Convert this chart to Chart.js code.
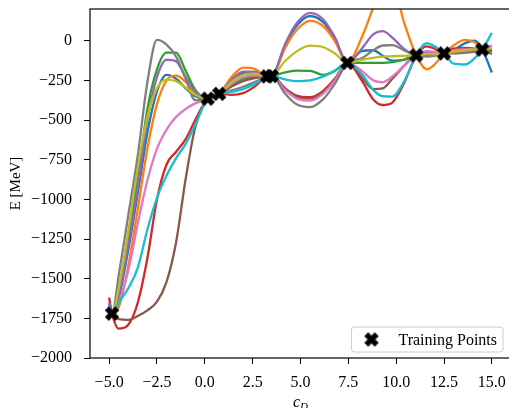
<!DOCTYPE html>
<html>
<head>
<meta charset="utf-8">
<script src="https://cdn.jsdelivr.net/npm/chart.js@4.4.0/dist/chart.umd.min.js"></script>
<style>
html, body { margin: 0; padding: 0; background: #fff; overflow: hidden; }
#wrap { width: 520px; height: 408px; }
</style>
</head>
<body>
<div id="wrap"><canvas id="chart" width="520" height="408"></canvas></div>
<script>
// c_D grid shared by every sampled curve
const cD = [-5, -4.85, -4.5, -4, -3.5, -3, -2.5, -2, -1.5, -1, -0.5, 0.15, 0.75, 1.4, 2, 2.6, 3.25, 3.5,
            4.2, 4.8, 5.5, 6.2, 6.8, 7.45, 8.2, 8.8, 9.3, 9.8, 10.4, 11.05, 11.6, 12, 12.5, 13, 13.6, 14.1, 14.5, 15];

// energy of each sampled curve on the grid above
const eBlue   = [-1660, -1720, -1620, -1320, -960, -580, -320, -215, -240, -300, -350, -365, -335, -253, -205, -201, -225, -222,
                 -29, 94, 156, 116, 12, -140, -65, -60, -95, -125, -120, -92, -95, -92, -80, -60, -15, 0, -56, -200];
const eOrange = [-1700, -1720, -1680, -1420, -1060, -680, -400, -250, -220, -260, -330, -365, -335, -229, -170, -177, -225, -222,
                 -45, 67, 125, 90, -4, -140, 20, 210, 380, 370, 120, -92, -180, -150, -80, -30, 5, -10, -56, -75];
const eGreen  = [-1690, -1720, -1580, -1230, -860, -430, -180, -75, -75, -190, -310, -365, -335, -278, -240, -226, -225, -222,
                 -200, -188, -190, -215, -190, -140, -140, -140, -140, -135, -120, -92, -90, -86, -80, -72, -65, -60, -56, -85];
const eRed    = [-1619, -1720, -1815, -1790, -1650, -1370, -1000, -780, -700, -620, -500, -365, -335, -341, -330, -289, -225, -222,
                 -300, -346, -356, -314, -239, -140, -250, -370, -405, -390, -270, -92, -35, -50, -80, -50, -45, -50, -56, -65];
const ePurple = [-1650, -1720, -1600, -1290, -920, -500, -230, -120, -130, -230, -320, -365, -335, -247, -195, -195, -225, -222,
                 -19, 110, 175, 132, 21, -140, -50, 40, 60, 20, -50, -92, -70, -72, -80, -70, -62, -58, -56, -50];
const eBrown  = [-1700, -1720, -1755, -1760, -1735, -1700, -1645, -1520, -1270, -870, -545, -365, -335, -288, -255, -236, -225, -222,
                 -305, -354, -365, -321, -244, -140, -230, -305, -300, -240, -160, -92, -95, -92, -80, -80, -75, -68, -56, -75];
const ePink   = [-1680, -1720, -1650, -1450, -1150, -880, -680, -560, -480, -430, -395, -365, -335, -271, -230, -219, -225, -222,
                 -312, -365, -378, -332, -250, -140, -190, -250, -262, -225, -160, -92, -65, -70, -80, -60, -55, -55, -56, -28];
const eGray   = [-1690, -1720, -1480, -1100, -720, -260, 5, -25, -100, -240, -375, -365, -335, -313, -290, -261, -225, -222,
                 -334, -401, -419, -367, -270, -140, -110, -60, -30, -28, -60, -92, -100, -95, -80, -75, -70, -65, -56, -80];
const eOlive  = [-1690, -1720, -1560, -1200, -800, -480, -300, -245, -255, -295, -340, -365, -335, -260, -215, -208, -225, -222,
                 -128, -67, -31, -41, -80, -140, -120, -108, -100, -98, -95, -92, -85, -84, -80, -70, -60, -55, -56, -45];
const eCyan   = [-1690, -1720, -1650, -1560, -1430, -1190, -990, -850, -740, -650, -530, -365, -335, -323, -305, -272, -225, -222,
                 -244, -255, -250, -225, -187, -140, -210, -310, -350, -352, -260, -92, -15, -35, -80, -145, -150, -110, -56, 50];

// training points
const trainX = [-4.85, 0.15, 0.75, 3.25, 3.5, 7.45, 11.05, 12.5, 14.5];
const trainE = [-1720, -365, -335, -225, -222, -140, -92, -80, -56];

// tick positions
const xTicks = [-5, -2.5, 0, 2.5, 5, 7.5, 10, 12.5, 15];
const yTicks = [-2000, -1750, -1500, -1250, -1000, -750, -500, -250, 0];

const serif = '"Liberation Serif", "DejaVu Serif", serif';

Ready();

function Ready()
{
    Chart.defaults.font.family = serif;
    Chart.defaults.color = '#000';

    let marker = MakeCrossMarker(16);

    let curves = [
        { values: eBlue,   color: '#1f77b4' },
        { values: eOrange, color: '#ff7f0e' },
        { values: eGreen,  color: '#2ca02c' },
        { values: eRed,    color: '#d62728' },
        { values: ePurple, color: '#9467bd' },
        { values: eBrown,  color: '#8c564b' },
        { values: ePink,   color: '#e377c2' },
        { values: eGray,   color: '#7f7f7f' },
        { values: eOlive,  color: '#bcbd22' },
        { values: eCyan,   color: '#17becf' }
    ];

    let datasets = [{
        label: 'Training Points',
        data: trainX.map((x, i) => ({ x: x, y: trainE[i] })),
        showLine: false,
        pointStyle: marker,
        pointRadius: 8,
        order: 0
    }];

    // later curves sit on top, as in the order they were plotted
    curves.forEach((c, i) => {
        datasets.push({
            label: 'sample ' + i,
            data: cD.map((x, k) => ({ x: x, y: c.values[k] })),
            borderColor: c.color,
            borderWidth: 2.3,
            pointRadius: 0,
            cubicInterpolationMode: 'monotone',
            fill: false,
            order: curves.length - i
        });
    });

    let fmt = (v, digits) => (v < 0 ? '\u2212' : '') + Math.abs(v).toFixed(digits);

    new Chart(document.getElementById('chart'), {
        type: 'line',
        data: { datasets: datasets },
        options: {
            responsive: false,
            animation: false,
            layout: { padding: { top: 6, right: 1, left: 0, bottom: 0 } },
            plugins: {
                legend: { display: false },
                tooltip: { enabled: false }
            },
            scales: {
                x: {
                    type: 'linear',
                    min: -6,
                    max: 16,
                    afterFit: s => { s.height = 50; s.paddingLeft = 0; s.paddingRight = 0; },
                    afterBuildTicks: s => { s.ticks = xTicks.map(v => ({ value: v })); },
                    border: { display: false },
                    grid: { drawOnChartArea: false, drawTicks: true, tickLength: 6, tickColor: '#000', tickWidth: 1 },
                    ticks: { font: { size: 16 }, padding: 9, maxRotation: 0, callback: v => fmt(v, 1) }
                },
                y: {
                    min: -2000,
                    max: 200,
                    afterFit: s => { s.width = 90; s.paddingTop = 0; s.paddingBottom = 0; },
                    afterBuildTicks: s => { s.ticks = yTicks.map(v => ({ value: v })); },
                    border: { display: false },
                    grid: { drawOnChartArea: false, drawTicks: true, tickLength: 6, tickColor: '#000', tickWidth: 1 },
                    ticks: { font: { size: 16 }, padding: 12, callback: v => fmt(v, 0) },
                    title: { display: true, text: 'E [MeV]', font: { size: 15 }, padding: { top: 7, bottom: 0 } }
                }
            }
        },
        plugins: [FramePlugin(), LegendPlugin(marker)]
    });
}

// filled "X" marker: a plus of arm width 1/3 turned by 45 degrees
function MakeCrossMarker(size)
{
    let c = document.createElement('canvas');
    c.width = size;
    c.height = size;

    let ctx = c.getContext('2d');
    let pts = [[-1, -3], [-1, -1], [-3, -1], [-3, 1], [-1, 1], [-1, 3], [1, 3], [1, 1], [3, 1], [3, -1], [1, -1], [1, -3]];
    let s = (size - 3) / 6 / 0.943;

    ctx.translate(size / 2, size / 2);
    ctx.rotate(Math.PI / 4);
    ctx.beginPath();
    pts.forEach((p, i) => {
        if (i == 0) ctx.moveTo(p[0] * s, p[1] * s);
        else ctx.lineTo(p[0] * s, p[1] * s);
    });
    ctx.closePath();
    ctx.fillStyle = '#000';
    ctx.fill();
    ctx.lineWidth = 1;
    ctx.strokeStyle = '#000';
    ctx.stroke();

    return c;
}

// box around the axes plus the c_D axis label
function FramePlugin()
{
    return {
        id: 'frame',
        afterDatasetsDraw(chart) {
            let { ctx, chartArea: a } = chart;
            ctx.save();
            ctx.strokeStyle = '#000';
            ctx.lineWidth = 1.2;
            ctx.strokeRect(a.left, a.top, a.right - a.left, a.bottom - a.top);
            ctx.restore();
        },
        afterDraw(chart) {
            let { ctx, chartArea: a } = chart;
            let cx = (a.left + a.right) / 2;
            ctx.save();
            ctx.fillStyle = '#000';
            ctx.textBaseline = 'alphabetic';
            ctx.font = 'italic 16px ' + serif;
            let wc = ctx.measureText('c').width;
            ctx.font = 'italic 11px ' + serif;
            let wd = ctx.measureText('D').width;
            let x0 = cx - (wc + wd) / 2;
            ctx.font = 'italic 16px ' + serif;
            ctx.fillText('c', x0, 407);
            ctx.font = 'italic 11px ' + serif;
            ctx.fillText('D', x0 + wc, 410);
            ctx.restore();
        }
    };
}

function LegendPlugin(marker)
{
    return {
        id: 'trainingLegend',
        afterDraw(chart) {
            let { ctx, chartArea: a } = chart;
            let label = chart.data.datasets[0].label;

            ctx.save();
            ctx.font = '16px ' + serif;
            let w = 47 + ctx.measureText(label).width + 6;
            let h = 25;
            let x1 = a.right - 8 - w;
            let y1 = a.bottom - 6 - h;

            ctx.beginPath();
            ctx.roundRect(x1, y1, w, h, 3);
            ctx.fillStyle = 'rgba(255,255,255,0.8)';
            ctx.fill();
            ctx.strokeStyle = '#cccccc';
            ctx.lineWidth = 1;
            ctx.stroke();

            ctx.drawImage(marker, x1 + 20 - marker.width / 2, y1 + h / 2 - marker.height / 2);

            ctx.fillStyle = '#000';
            ctx.textBaseline = 'middle';
            ctx.fillText(label, x1 + 47, y1 + h / 2 + 1);
            ctx.restore();
        }
    };
}
</script>
</body>
</html>
